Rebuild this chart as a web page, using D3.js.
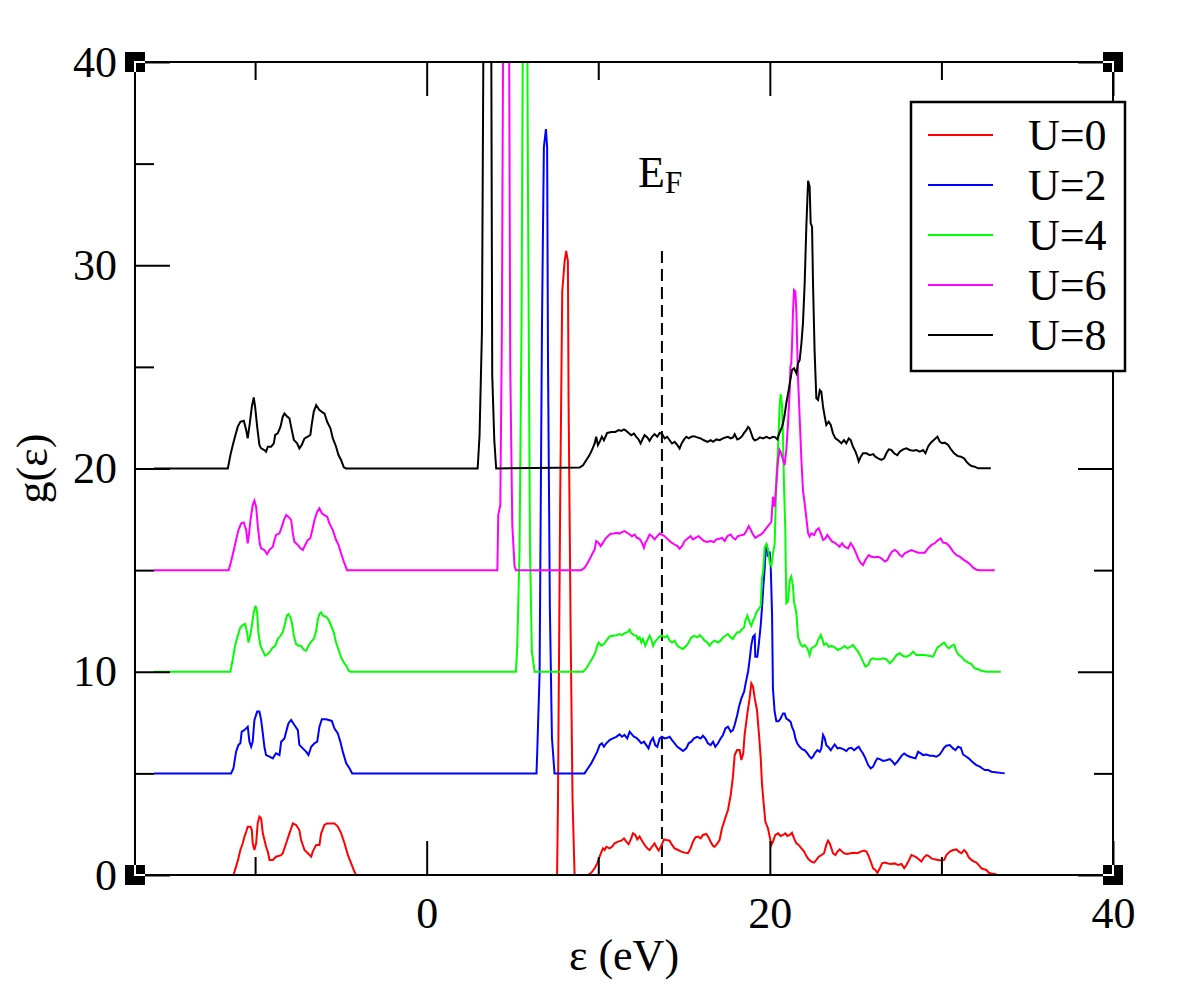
<!DOCTYPE html>
<html>
<head>
<meta charset="utf-8">
<script src="https://cdn.jsdelivr.net/npm/d3@7"></script>
<style>
  body { margin: 0; background: #fff; }
  svg { display: block; }
  text { font-family: "Liberation Serif", "Times New Roman", serif; fill: #000; }
</style>
</head>
<body>
<div id="chart"></div>
<script>
// density of states g(e); each U curve is offset by +5
const dosU0 = [
  [-15.9,0],[-11.40,0],[-11.26,0],[-11.11,0.41],[-10.97,0.82],[-10.86,1.23],[-10.72,1.56],[-10.62,1.89],[-10.52,2.13],[-10.43,2.38],[-10.27,2.38],[-10.19,2.21],[-10.14,1.56],[-10.04,1.23],[-9.94,1.56],[-9.85,2.54],[-9.75,2.87],[-9.65,2.79],[-9.55,2.05],[-9.36,1.39],[-9.26,1.15],[-9.16,0.74],[-8.97,0.74],[-8.78,0.90],[-8.48,0.98],[-8.39,1.07],[-8.19,1.56],[-8.00,2.05],[-7.80,2.54],[-7.61,2.46],[-7.42,2.21],[-7.32,1.72],[-7.12,1.23],[-6.93,1.07],[-6.73,0.90],[-6.64,1.15],[-6.44,1.48],[-6.25,1.48],[-6.15,2.05],[-5.96,2.46],[-5.81,2.54],[-5.57,2.54],[-5.38,2.54],[-5.18,2.38],[-4.98,2.05],[-4.79,1.56],[-4.59,0.98],[-4.40,0.57],[-4.21,0.16],[-4.11,0],
  [7.60,0],[7.65,3.5],[7.78,18.4],[7.90,28.7],[8.04,30.2],[8.13,30.7],[8.23,30.2],[8.27,23.3],[8.39,12.0],[8.50,3.75],[8.62,0],
  [9.40,0],[9.59,0.11],[9.79,0.33],[9.94,0.57],[10.08,0.90],[10.17,1.10],[10.27,1.31],[10.37,1.23],[10.47,1.39],[10.66,1.31],[10.80,1.39],[10.95,1.56],[11.15,1.64],[11.34,1.69],[11.50,1.80],[11.63,1.64],[11.77,1.51],[11.92,1.80],[12.02,2.05],[12.16,1.97],[12.27,1.75],[12.41,1.89],[12.55,1.69],[12.70,1.48],[12.86,1.31],[12.99,1.23],[13.13,1.39],[13.28,1.56],[13.38,1.39],[13.52,1.20],[13.67,1.43],[13.83,1.75],[13.97,1.72],[14.16,1.69],[14.30,1.48],[14.45,1.31],[14.65,1.23],[14.84,1.15],[15.03,1.10],[15.23,1.07],[15.38,1.31],[15.52,1.64],[15.66,1.85],[15.81,1.89],[15.97,1.80],[16.10,1.97],[16.30,2.02],[16.43,1.85],[16.55,1.64],[16.69,1.43],[16.78,1.39],[16.94,1.56],[17.07,1.72],[17.21,2.30],[17.37,2.71],[17.46,2.95],[17.56,3.20],[17.72,3.94],[17.85,4.84],[17.95,5.90],[18.09,6.15],[18.24,6.15],[18.34,5.66],[18.45,5.99],[18.53,6.89],[18.69,7.95],[18.82,8.69],[18.92,9.43],[19.02,9.27],[19.12,8.69],[19.25,8.12],[19.37,6.89],[19.47,5.74],[19.54,4.51],[19.64,3.53],[19.74,2.62],[19.89,2.30],
  [20.09,1.48],[20.18,1.64],[20.32,1.97],[20.48,2.05],[20.63,1.92],[20.77,1.97],[20.90,2.05],[21.02,1.92],[21.16,1.97],[21.29,2.08],[21.41,1.80],[21.55,1.56],[21.68,1.48],[21.84,1.31],[22.00,1.15],[22.13,0.93],[22.26,0.77],[22.42,0.66],[22.58,0.61],[22.71,0.74],[22.85,0.90],[23.00,0.98],[23.16,1.07],[23.29,1.48],[23.39,1.69],[23.49,1.56],[23.59,1.31],[23.68,1.07],[23.82,0.98],[23.94,1.15],[24.07,1.26],[24.21,1.15],[24.32,1.07],[24.52,1.03],[24.71,1.07],[24.91,1.10],[25.10,1.07],[25.30,1.15],[25.49,1.20],[25.63,1.15],[25.76,0.93],[25.88,0.66],[26.02,0.33],[26.15,0.25],[26.27,0.11],[26.41,0.33],[26.54,0.57],[26.70,0.61],[26.89,0.57],[27.08,0.54],[27.28,0.57],[27.47,0.49],[27.67,0.54],[27.83,0.33],[27.96,0.49],[28.10,0.71],[28.25,0.98],[28.41,0.93],[28.54,0.87],[28.68,0.77],[28.83,0.66],[28.99,0.87],[29.13,0.98],[29.26,0.93],[29.42,0.82],[29.61,0.77],[29.81,0.74],[30.00,0.71],[30.16,0.74],[30.29,0.98],[30.49,1.15],[30.68,1.23],[30.88,1.26],[31.01,1.15],[31.17,1.07],[31.32,1.23],[31.46,1.10],[31.59,0.87],[31.75,0.74],[31.91,0.66],[32.04,0.61],[32.18,0.49],[32.33,0.33],[32.49,0.28],[32.62,0.25],[32.76,0.11],[32.92,0.08],[33.11,0.05],[33.27,0]
];

const dosU2 = [
  [-15.9,5],[-11.40,5],[-11.26,5.25],[-11.11,6.07],[-10.97,6.40],[-10.86,6.48],[-10.78,7.05],[-10.62,7.13],[-10.43,7.30],[-10.33,6.56],[-10.23,6.31],[-10.14,6.56],[-10.04,7.63],[-9.88,8.04],[-9.75,8.04],[-9.65,7.63],[-9.55,6.97],[-9.46,6.31],[-9.36,5.90],[-9.16,5.82],[-8.97,5.74],[-8.78,5.99],[-8.58,5.90],[-8.48,6.56],[-8.29,6.72],[-8.19,7.05],[-8.06,7.46],[-7.90,7.63],[-7.71,7.38],[-7.51,7.13],[-7.42,6.40],[-7.22,6.23],[-7.03,6.07],[-6.89,5.90],[-6.73,6.31],[-6.54,6.48],[-6.38,6.56],[-6.25,7.30],[-6.11,7.66],[-5.86,7.66],[-5.53,7.58],[-5.38,7.22],[-5.18,6.97],[-5.03,6.56],[-4.89,6.07],[-4.69,5.50],[-4.50,5.25],[-4.34,5],
  [6.40,5],[6.44,5.97],[6.58,9.9],[6.72,27.1],[6.83,35.8],[6.95,36.7],[7.02,35.8],[7.07,25.4],[7.18,13.1],[7.30,6.75],[7.45,5],
  [9.20,5],[9.40,5.25],[9.59,5.49],[9.79,5.82],[9.94,6.07],[10.08,6.39],[10.21,6.48],[10.33,6.31],[10.47,6.48],[10.66,6.64],[10.85,6.72],[11.05,6.80],[11.24,6.92],[11.38,6.80],[11.53,6.89],[11.69,6.72],[11.83,7.05],[11.96,6.92],[12.08,6.80],[12.22,6.75],[12.35,6.64],[12.51,6.48],[12.66,6.56],[12.80,6.39],[12.93,6.23],[13.05,6.56],[13.19,6.75],[13.32,6.39],[13.44,6.31],[13.58,6.72],[13.71,6.80],[13.87,6.72],[14.02,6.75],[14.16,6.80],[14.30,6.64],[14.45,6.48],[14.61,6.31],[14.74,6.23],[14.94,6.10],[15.13,6.23],[15.27,6.48],[15.42,6.56],[15.58,6.72],[15.77,6.80],[15.97,6.72],[16.10,6.85],[16.24,6.72],[16.39,6.48],[16.55,6.39],[16.69,6.56],[16.82,6.31],[16.98,6.48],[17.13,6.72],[17.27,6.89],[17.41,7.21],[17.56,7.30],[17.72,7.05],[17.85,7.13],[17.95,7.38],[18.10,7.87],[18.20,8.28],[18.34,8.69],[18.50,9.02],[18.59,9.43],[18.73,10.00],[18.82,10.58],[18.92,11.31],[19.02,11.72],[19.12,11.81],[19.15,10.74],[19.27,10.74],[19.35,11.31],[19.47,12.30],[19.54,13.12],[19.62,14.18],[19.70,15.09],[19.76,16.07],[19.84,16.15],[19.89,15.66],[19.99,15.91],[20.05,15.25],[20.13,12.79],
  [20.18,9.18],[20.28,8.03],[20.38,7.57],[20.51,7.57],[20.63,7.70],[20.77,7.95],[20.86,7.95],[20.96,7.70],[21.10,7.62],[21.21,7.54],[21.29,7.29],[21.41,7.05],[21.49,6.72],[21.60,6.47],[21.74,6.31],[21.88,6.19],[22.03,6.14],[22.19,5.98],[22.32,5.82],[22.42,5.74],[22.52,5.82],[22.61,5.98],[22.77,6.14],[22.91,6.06],[23.00,6.23],[23.10,6.89],[23.20,6.72],[23.29,6.39],[23.39,6.31],[23.55,6.14],[23.68,6.31],[23.78,6.42],[23.94,6.23],[24.07,6.26],[24.27,6.19],[24.46,6.10],[24.60,6.23],[24.75,6.26],[24.91,6.14],[25.04,6.23],[25.18,6.31],[25.30,6.14],[25.43,5.98],[25.57,5.74],[25.73,5.41],[25.88,5.25],[26.02,5.33],[26.15,5.57],[26.27,5.74],[26.41,5.70],[26.60,5.61],[26.80,5.65],[26.99,5.70],[27.12,5.61],[27.28,5.44],[27.43,5.57],[27.57,5.74],[27.71,5.90],[27.83,5.98],[27.96,5.90],[28.16,5.82],[28.35,5.77],[28.49,5.74],[28.64,6.06],[28.80,5.98],[28.93,5.90],[29.13,5.93],[29.32,5.87],[29.51,5.87],[29.71,5.82],[29.90,5.93],[30.04,6.10],[30.16,6.26],[30.29,6.36],[30.49,6.39],[30.68,6.23],[30.82,6.14],[30.97,6.31],[31.13,6.26],[31.26,5.93],[31.46,5.82],[31.59,5.74],[31.75,5.61],[31.91,5.49],[32.04,5.41],[32.24,5.33],[32.37,5.25],[32.53,5.16],[32.72,5.16],[32.92,5.08],[33.69,5.0]
];

const dosU4 = [
  [-15.9,10],[-11.44,10],[-11.30,10.62],[-11.17,11.28],[-11.01,11.77],[-10.86,12.18],[-10.72,12.30],[-10.58,12.35],[-10.47,11.94],[-10.39,11.44],[-10.29,11.77],[-10.19,12.26],[-10.08,12.92],[-9.98,13.25],[-9.88,12.92],[-9.81,11.94],[-9.69,11.28],[-9.55,11.03],[-9.42,10.79],[-9.26,10.87],[-9.17,10.95],[-8.97,11.20],[-8.83,11.28],[-8.68,11.61],[-8.52,11.77],[-8.39,11.94],[-8.29,12.26],[-8.15,12.76],[-8.06,12.84],[-7.94,12.67],[-7.86,12.43],[-7.74,11.77],[-7.61,11.36],[-7.47,11.28],[-7.32,11.28],[-7.17,11.08],[-7.03,11.03],[-6.89,11.28],[-6.73,11.48],[-6.58,11.61],[-6.44,12.02],[-6.34,12.59],[-6.25,12.84],[-6.15,12.92],[-6.05,12.76],[-5.89,12.72],[-5.74,12.59],[-5.61,12.35],[-5.42,11.94],[-5.28,11.44],[-5.14,11.08],[-4.99,10.71],[-4.83,10.46],[-4.69,10.30],[-4.55,10.05],[-4.43,10],
  [5.20,10],[5.28,11.3],[5.41,15.9],[5.53,27.3],[5.64,48],[5.77,60],[5.90,34.4],[6.02,16.1],[6.13,11.0],[6.29,10],
  [9.11,10],[9.30,10.16],[9.49,10.43],[9.69,10.71],[9.83,10.95],[9.94,11.28],[10.02,11.44],[10.17,11.28],[10.33,11.36],[10.47,11.53],[10.66,11.74],[10.85,11.77],[11.05,11.80],[11.24,11.85],[11.38,11.80],[11.53,11.90],[11.69,11.94],[11.83,12.07],[11.92,11.90],[12.08,11.80],[12.22,11.77],[12.31,11.61],[12.41,11.69],[12.51,11.44],[12.60,11.61],[12.74,11.28],[12.86,11.53],[12.99,11.77],[13.09,11.61],[13.19,11.28],[13.28,11.44],[13.44,11.61],[13.58,11.74],[13.71,11.77],[13.87,11.69],[14.02,11.77],[14.16,11.53],[14.30,11.44],[14.45,11.53],[14.61,11.28],[14.74,11.20],[14.94,11.12],[15.13,11.28],[15.27,11.44],[15.42,11.69],[15.58,11.77],[15.77,11.69],[15.91,11.80],[16.05,11.69],[16.20,11.53],[16.36,11.44],[16.49,11.28],[16.63,11.44],[16.78,11.53],[16.98,11.44],[17.13,11.53],[17.27,11.69],[17.41,11.77],[17.56,11.85],[17.72,11.69],[17.85,11.61],[17.95,11.77],[18.10,11.94],[18.24,11.94],[18.38,12.10],[18.50,12.18],[18.57,12.51],[18.69,12.76],[18.82,12.43],[18.92,12.26],[19.02,12.51],[19.12,12.67],[19.21,12.92],[19.35,13.08],[19.47,13.25],[19.54,14.56],[19.62,15.05],[19.70,16.12],[19.80,16.28],[19.89,16.04],[19.99,15.38],[20.09,15.22],[20.19,15.87],[20.28,16.28],[20.38,19.48],[20.48,21.04],[20.57,23.09],[20.63,23.66],[20.71,23.09],[20.77,21.45],[20.83,18.99],[20.90,17.02],
  [20.96,13.37],[21.06,13.45],[21.16,14.51],[21.25,14.68],[21.35,14.19],[21.41,13.45],[21.55,12.87],[21.64,11.73],[21.80,11.32],[21.93,11.23],[22.03,11.32],[22.19,11.15],[22.32,10.82],[22.42,11.15],[22.58,11.23],[22.71,11.32],[22.81,11.56],[22.97,11.81],[23.04,11.64],[23.16,11.32],[23.29,11.40],[23.43,11.23],[23.59,11.27],[23.78,11.20],[23.97,11.07],[24.17,11.15],[24.36,11.27],[24.52,11.15],[24.71,11.23],[24.85,11.32],[24.99,11.15],[25.14,10.99],[25.30,10.74],[25.43,10.50],[25.57,10.25],[25.73,10.33],[25.88,10.61],[26.02,10.66],[26.21,10.61],[26.41,10.61],[26.60,10.66],[26.80,10.61],[26.99,10.42],[27.19,10.58],[27.38,10.82],[27.57,10.91],[27.77,10.77],[27.96,10.74],[28.16,10.82],[28.35,10.99],[28.54,10.82],[28.74,10.82],[29.03,10.82],[29.32,10.77],[29.51,10.74],[29.65,10.99],[29.77,11.20],[29.90,11.27],[30.04,11.37],[30.16,11.43],[30.29,11.27],[30.43,11.15],[30.59,11.27],[30.74,11.32],[30.88,10.99],[31.01,10.82],[31.17,10.74],[31.32,10.58],[31.56,10.45],[31.75,10.38],[31.94,10.17],[32.14,10.12],[32.33,10.05],[32.62,10],[33.46,10]
];

const dosU6 = [
  [-15.9,15],[-11.54,15],[-11.40,15.42],[-11.24,15.99],[-11.11,16.48],[-10.97,16.97],[-10.81,17.30],[-10.66,17.34],[-10.52,16.97],[-10.43,16.32],[-10.35,16.81],[-10.27,17.47],[-10.14,18.20],[-10.04,18.42],[-9.94,18.12],[-9.84,17.14],[-9.73,16.32],[-9.65,16.07],[-9.46,15.99],[-9.30,15.79],[-9.17,15.99],[-8.97,16.15],[-8.87,16.48],[-8.78,16.73],[-8.58,16.81],[-8.44,17.14],[-8.32,17.47],[-8.19,17.71],[-8.06,17.63],[-7.90,17.47],[-7.80,16.81],[-7.71,16.40],[-7.51,16.24],[-7.36,16.07],[-7.22,15.99],[-7.08,16.24],[-6.93,16.48],[-6.78,16.57],[-6.69,16.89],[-6.54,17.47],[-6.38,17.88],[-6.25,18.04],[-6.11,17.79],[-5.96,17.71],[-5.80,17.63],[-5.67,17.30],[-5.47,16.97],[-5.28,16.48],[-5.14,16.24],[-4.99,15.83],[-4.83,15.42],[-4.64,15],
  [4.12,15],[4.17,17.7],[4.29,18.2],[4.38,26.5],[4.50,50],[4.62,70],[4.75,55],[4.87,25.0],[4.99,17.2],[5.12,15.2],[5.20,15],
  [9.01,15],[9.20,15.11],[9.36,15.33],[9.49,15.52],[9.63,15.77],[9.79,16.02],[9.88,16.43],[10.02,16.34],[10.14,16.18],[10.27,16.34],[10.41,16.54],[10.56,16.67],[10.72,16.79],[10.91,16.80],[11.11,16.84],[11.24,16.80],[11.38,16.87],[11.53,16.92],[11.69,16.84],[11.83,16.75],[11.96,16.67],[12.12,16.75],[12.25,16.59],[12.41,16.54],[12.55,16.34],[12.66,16.10],[12.74,16.34],[12.86,16.51],[12.99,16.75],[13.13,16.67],[13.28,16.51],[13.44,16.67],[13.58,16.80],[13.71,16.75],[13.87,16.67],[14.02,16.54],[14.16,16.43],[14.30,16.34],[14.45,16.26],[14.61,16.18],[14.74,16.05],[14.88,16.18],[15.03,16.43],[15.19,16.54],[15.38,16.67],[15.52,16.51],[15.66,16.59],[15.85,16.67],[16.01,16.54],[16.16,16.43],[16.36,16.38],[16.55,16.43],[16.74,16.38],[16.88,16.51],[17.07,16.54],[17.21,16.59],[17.37,16.43],[17.52,16.67],[17.72,16.75],[17.85,16.59],[17.99,16.51],[18.14,16.67],[18.30,16.71],[18.50,16.75],[18.63,16.92],[18.77,17.16],[18.88,17.00],[19.02,16.75],[19.15,16.59],[19.30,16.67],[19.47,16.75],[19.60,16.84],[19.74,17.00],[19.89,17.16],
  [20.09,17.38],[20.18,18.61],[20.28,18.12],[20.38,19.27],[20.48,20.42],[20.57,20.91],[20.67,20.75],[20.77,20.42],[20.86,20.17],[20.96,20.91],[21.06,22.22],[21.16,23.86],[21.20,25.01],[21.25,25.17],[21.29,26.00],[21.35,27.72],[21.41,28.78],[21.49,28.70],[21.55,27.64],[21.60,25.83],[21.64,24.52],[21.74,22.47],[21.84,20.42],[21.93,18.94],[22.03,18.29],[22.13,17.55],[22.23,16.81],[22.32,16.65],[22.42,16.81],[22.58,16.73],[22.71,16.97],[22.85,17.06],[22.97,16.81],[23.10,16.48],[23.24,16.56],[23.35,16.73],[23.49,16.56],[23.63,16.40],[23.78,16.35],[23.94,16.24],[24.07,16.15],[24.21,16.32],[24.36,16.15],[24.56,16.07],[24.71,16.32],[24.85,16.15],[24.99,15.91],[25.14,15.58],[25.30,15.34],[25.43,15.25],[25.57,15.50],[25.76,15.74],[25.92,15.66],[26.11,15.63],[26.31,15.66],[26.50,15.58],[26.70,15.42],[26.85,15.50],[26.99,15.74],[27.12,15.91],[27.28,15.99],[27.43,15.91],[27.57,15.74],[27.71,15.66],[27.86,15.83],[28.06,15.91],[28.25,15.99],[28.64,15.86],[29.03,15.86],[29.22,16.07],[29.42,16.24],[29.61,16.32],[29.81,16.48],[29.96,16.56],[30.10,16.35],[30.29,16.32],[30.49,16.15],[30.68,15.91],[30.88,15.74],[31.07,15.66],[31.26,15.53],[31.46,15.42],[31.65,15.30],[31.85,15.12],[32.04,15.02],[32.24,15.0],[33.11,15.0]
];

const dosU8 = [
  [-15.9,20],[-11.59,20],[-11.44,20.66],[-11.30,21.16],[-11.17,21.57],[-11.01,22.06],[-10.86,22.30],[-10.66,22.35],[-10.52,21.89],[-10.43,21.48],[-10.31,22.22],[-10.19,23.04],[-10.08,23.50],[-10.00,23.04],[-9.88,22.06],[-9.75,21.16],[-9.65,20.99],[-9.46,20.91],[-9.36,20.83],[-9.26,21.07],[-9.07,21.07],[-8.91,21.24],[-8.83,21.65],[-8.68,21.73],[-8.52,22.06],[-8.39,22.55],[-8.29,22.71],[-8.13,22.55],[-8.00,22.47],[-7.86,21.89],[-7.74,21.40],[-7.55,21.24],[-7.42,20.99],[-7.28,21.16],[-7.12,21.48],[-6.93,21.57],[-6.78,21.65],[-6.69,22.22],[-6.58,22.80],[-6.44,23.12],[-6.25,22.88],[-6.05,22.75],[-5.96,22.71],[-5.80,22.30],[-5.61,21.98],[-5.47,21.48],[-5.28,21.07],[-5.14,20.66],[-4.99,20.42],[-4.83,20.06],[-4.69,20],
  [2.97,20],[3.08,21.6],[3.22,26.7],[3.33,45],[3.45,65],[3.58,75],[3.70,60],[3.82,24.6],[3.94,21.4],[4.05,20],
  [8.91,20.05],[9.11,20.16],[9.30,20.41],[9.49,20.66],[9.63,20.90],[9.79,21.23],[9.88,21.56],[9.98,21.15],[10.08,21.31],[10.21,21.56],[10.33,21.39],[10.52,21.75],[10.76,21.80],[10.99,21.80],[11.19,21.89],[11.34,21.85],[11.50,21.92],[11.63,21.85],[11.77,21.75],[11.92,21.64],[12.08,21.72],[12.22,21.56],[12.35,21.43],[12.47,21.23],[12.60,21.48],[12.70,21.64],[12.86,21.53],[12.99,21.36],[13.13,21.56],[13.28,21.69],[13.44,21.56],[13.58,21.75],[13.71,21.72],[13.87,21.48],[14.02,21.56],[14.16,21.39],[14.30,21.23],[14.45,21.31],[14.61,21.15],[14.74,20.98],[14.84,21.20],[15.00,21.43],[15.13,21.56],[15.27,21.48],[15.42,21.56],[15.58,21.59],[15.77,21.53],[15.97,21.48],[16.16,21.39],[16.36,21.31],[16.55,21.39],[16.69,21.31],[16.88,21.43],[17.07,21.39],[17.27,21.48],[17.41,21.53],[17.56,21.56],[17.72,21.48],[17.85,21.53],[17.95,21.69],[18.10,21.43],[18.24,21.48],[18.38,21.59],[18.50,21.75],[18.63,21.89],[18.73,22.05],[18.82,21.97],[18.92,21.72],[19.02,21.48],[19.12,21.39],[19.27,21.43],[19.41,21.53],[19.60,21.48],[19.80,21.56],[19.99,21.48],[20.19,21.56],[20.32,21.53],[20.44,21.43],[20.51,21.64],[20.63,21.89],[20.71,22.05],
  [20.77,22.22],[20.86,22.63],[20.96,23.21],[21.10,23.86],[21.21,24.44],[21.29,24.85],[21.41,24.93],[21.55,24.68],[21.64,25.17],[21.74,25.34],[21.84,26.16],[21.93,27.14],[22.03,29.11],[22.13,31.98],[22.23,34.16],[22.32,33.87],[22.38,32.06],[22.46,31.90],[22.52,28.95],[22.61,25.75],[22.71,23.45],[22.81,23.37],[22.91,23.86],[23.00,23.78],[23.10,23.04],[23.20,22.55],[23.29,22.14],[23.43,22.30],[23.55,22.14],[23.68,21.73],[23.82,21.48],[23.97,21.40],[24.17,21.24],[24.32,21.40],[24.46,21.24],[24.60,21.48],[24.71,21.40],[24.85,21.07],[24.99,20.83],[25.10,20.58],[25.18,20.34],[25.30,20.58],[25.43,20.75],[25.63,20.75],[25.82,20.66],[26.02,20.71],[26.15,20.58],[26.31,20.50],[26.50,20.42],[26.66,20.50],[26.79,20.75],[26.93,20.94],[27.08,20.91],[27.24,20.75],[27.43,20.66],[27.57,20.83],[27.77,20.94],[27.96,20.99],[28.15,20.91],[28.35,20.88],[28.54,20.91],[28.74,20.83],[28.93,20.91],[29.07,20.75],[29.22,21.07],[29.38,21.27],[29.51,21.37],[29.65,21.48],[29.77,21.57],[29.90,21.32],[30.04,21.24],[30.19,21.27],[30.39,21.16],[30.58,20.91],[30.74,20.75],[30.93,20.62],[31.13,20.58],[31.32,20.50],[31.46,20.34],[31.59,20.22],[31.75,20.12],[31.94,20.09],[32.14,20.01],[32.88,20.01]
];

const seriesLabels = ["U=0", "U=2", "U=4", "U=6", "U=8"];
const seriesColors = ["#ff0000", "#0000ff", "#00ff00", "#ff00ff", "#000000"];
const xMajorTicks = [0, 20, 40];
const xMinorTicks = [-10, 10, 30];
const yMajorTicks = [0, 10, 20, 30, 40];
const yMinorTicks = [5, 15, 25, 35];
const fermiLevel = 13.71;   // dashed marker
const fermiTop = 30.75;

/* Dimensions */
const width = 1184, height = 1002;
const margin = { top: 62, right: 71, bottom: 127, left: 135 };
const x0 = margin.left, x1 = width - margin.right;
const y0 = margin.top, y1 = height - margin.bottom;

const xScale = d3.scaleLinear().domain([-17, 40]).range([x0, x1]);
const yScale = d3.scaleLinear().domain([0, 40]).range([y1, y0]);

const svg = d3.select("#chart")
  .append("svg")
  .attr("width", width)
  .attr("height", height);

svg.append("defs").append("clipPath")
  .attr("id", "plot-clip")
  .append("rect")
  .attr("x", x0).attr("y", y0)
  .attr("width", x1 - x0).attr("height", y1 - y0);

// dashed Fermi level
svg.append("line")
  .attr("x1", xScale(fermiLevel)).attr("x2", xScale(fermiLevel))
  .attr("y1", yScale(0)).attr("y2", yScale(fermiTop))
  .attr("stroke", "#000")
  .attr("stroke-width", 2)
  .attr("stroke-dasharray", "12,6");

// curves
const line = d3.line()
  .x(d => xScale(d[0]))
  .y(d => yScale(d[1]));

const series = [dosU0, dosU2, dosU4, dosU6, dosU8];
const curves = svg.append("g").attr("clip-path", "url(#plot-clip)");
series.forEach((s, i) => {
  curves.append("path")
    .datum(s)
    .attr("d", line)
    .attr("fill", "none")
    .attr("stroke", seriesColors[i])
    .attr("stroke-width", 2)
    .attr("stroke-linejoin", "miter");
});

// ticks on all four sides, pointing inward
function styleAxis(g) {
  g.select(".domain").remove();
  g.selectAll(".tick line").attr("stroke", "#000").attr("stroke-width", 2);
  g.selectAll("text")
    .attr("font-family", "Liberation Serif, Times New Roman, serif")
    .attr("font-size", 44)
    .attr("fill", "#000");
}

svg.append("g")
  .attr("transform", `translate(0,${y1})`)
  .call(d3.axisBottom(xScale).tickValues(xMajorTicks).tickSize(-34).tickPadding(22).tickFormat(d3.format("d")))
  .call(styleAxis);
svg.append("g")
  .attr("transform", `translate(0,${y1})`)
  .call(d3.axisBottom(xScale).tickValues(xMinorTicks).tickSize(-18).tickFormat(""))
  .call(styleAxis);
svg.append("g")
  .attr("transform", `translate(0,${y0})`)
  .call(d3.axisTop(xScale).tickValues(xMajorTicks).tickSize(-34).tickFormat(""))
  .call(styleAxis);
svg.append("g")
  .attr("transform", `translate(0,${y0})`)
  .call(d3.axisTop(xScale).tickValues(xMinorTicks).tickSize(-18).tickFormat(""))
  .call(styleAxis);

svg.append("g")
  .attr("transform", `translate(${x0},0)`)
  .call(d3.axisLeft(yScale).tickValues(yMajorTicks).tickSize(-35).tickPadding(18).tickFormat(d3.format("d")))
  .call(styleAxis);
svg.append("g")
  .attr("transform", `translate(${x0},0)`)
  .call(d3.axisLeft(yScale).tickValues(yMinorTicks).tickSize(-19).tickFormat(""))
  .call(styleAxis);
svg.append("g")
  .attr("transform", `translate(${x1},0)`)
  .call(d3.axisRight(yScale).tickValues(yMajorTicks).tickSize(-35).tickFormat(""))
  .call(styleAxis);
svg.append("g")
  .attr("transform", `translate(${x1},0)`)
  .call(d3.axisRight(yScale).tickValues(yMinorTicks).tickSize(-19).tickFormat(""))
  .call(styleAxis);

// frame
svg.append("rect")
  .attr("x", x0).attr("y", y0)
  .attr("width", x1 - x0).attr("height", y1 - y0)
  .attr("fill", "none")
  .attr("stroke", "#000")
  .attr("stroke-width", 2);

// corner squares, frame shows white inside them
const corners = [[x0, y0, 1, 1], [x1, y0, -1, 1], [x0, y1, 1, -1], [x1, y1, -1, -1]];
corners.forEach(([cx, cy, dx, dy]) => {
  svg.append("rect")
    .attr("x", cx - 10).attr("y", cy - 10)
    .attr("width", 20).attr("height", 20)
    .attr("fill", "#000");
  svg.append("path")
    .attr("d", `M${cx + dx * 10},${cy}H${cx}V${cy + dy * 10}`)
    .attr("fill", "none")
    .attr("stroke", "#fff")
    .attr("stroke-width", 2);
});

// labels
svg.append("text")
  .attr("x", (x0 + x1) / 2)
  .attr("y", 970)
  .attr("text-anchor", "middle")
  .attr("font-size", 44)
  .text("ε (eV)");

svg.append("text")
  .attr("transform", `translate(47,${(y0 + y1) / 2}) rotate(-90)`)
  .attr("text-anchor", "middle")
  .attr("font-size", 44)
  .text("g(ε)");

const ef = svg.append("text")
  .attr("x", 638)
  .attr("y", 187)
  .attr("font-size", 44)
  .text("E");
ef.append("tspan")
  .attr("font-size", 31)
  .attr("dy", 6)
  .text("F");

// legend
const legend = svg.append("g");
legend.append("rect")
  .attr("x", 911).attr("y", 102)
  .attr("width", 214).attr("height", 269)
  .attr("fill", "#fff")
  .attr("stroke", "#000")
  .attr("stroke-width", 2.5);
seriesLabels.forEach((label, i) => {
  const ly = 135 + i * 50;
  legend.append("line")
    .attr("x1", 928).attr("x2", 993)
    .attr("y1", ly).attr("y2", ly)
    .attr("stroke", seriesColors[i])
    .attr("stroke-width", 2);
  legend.append("text")
    .attr("x", 1028)
    .attr("y", ly + 15)
    .attr("font-size", 44)
    .text(label);
});
</script>
</body>
</html>
